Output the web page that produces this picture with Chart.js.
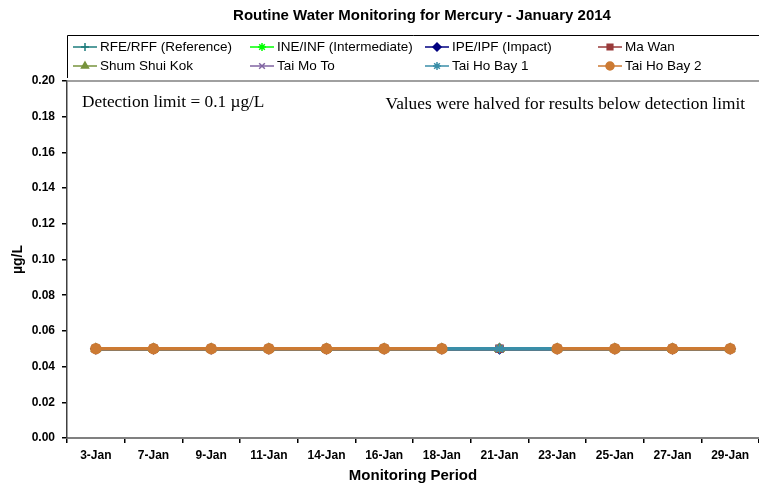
<!DOCTYPE html>
<html>
<head>
<meta charset="utf-8">
<script src="https://cdn.jsdelivr.net/npm/chart.js@4/dist/chart.umd.min.js"></script>
<style>
  html, body { margin: 0; padding: 0; background: #fff; }
  #wrap { width: 759px; height: 487px; }
</style>
</head>
<body>
<div id="wrap"><canvas id="chart"></canvas></div>
<script>
const dates = ["3-Jan", "7-Jan", "9-Jan", "11-Jan", "14-Jan", "16-Jan", "18-Jan", "21-Jan", "23-Jan", "25-Jan", "27-Jan", "29-Jan"];
const yTicks = [0, 0.02, 0.04, 0.06, 0.08, 0.10, 0.12, 0.14, 0.16, 0.18, 0.20];

// all results below detection limit, halved to 0.05
const rfeRff = [0.05, 0.05, 0.05, 0.05, 0.05, 0.05, 0.05, 0.05, 0.05, 0.05, 0.05, 0.05];
const ineInf = [0.05, 0.05, 0.05, 0.05, 0.05, 0.05, 0.05, 0.05, 0.05, 0.05, 0.05, 0.05];
const ipeIpf = [0.05, 0.05, 0.05, 0.05, 0.05, 0.05, 0.05, 0.05, 0.05, 0.05, 0.05, 0.05];
const maWan = [0.05, 0.05, 0.05, 0.05, 0.05, 0.05, 0.05, 0.05, 0.05, 0.05, 0.05, 0.05];
const shumShuiKok = [0.05, 0.05, 0.05, 0.05, 0.05, 0.05, 0.05, 0.05, 0.05, 0.05, 0.05, 0.05];
const taiMoTo = [0.05, 0.05, 0.05, 0.05, 0.05, 0.05, 0.05, 0.05, 0.05, 0.05, 0.05, 0.05];
const taiHoBay1 = [0.05, 0.05, 0.05, 0.05, 0.05, 0.05, 0.05, 0.05, 0.05, 0.05, 0.05, 0.05];
const taiHoBay2 = [0.05, 0.05, 0.05, 0.05, 0.05, 0.05, 0.05, null, 0.05, 0.05, 0.05, 0.05];

const series = [
  { label: "RFE/RFF (Reference)", data: rfeRff, color: "#1d7c7c", style: "cross" },
  { label: "INE/INF (Intermediate)", data: ineInf, color: "#00ff00", style: "star" },
  { label: "IPE/IPF (Impact)", data: ipeIpf, color: "#000080", style: "rectRot" },
  { label: "Ma Wan", data: maWan, color: "#993a3a", style: "rect" },
  { label: "Shum Shui Kok", data: shumShuiKok, color: "#77933c", style: "triangle" },
  { label: "Tai Mo To", data: taiMoTo, color: "#8064a2", style: "crossRot" },
  { label: "Tai Ho Bay 1", data: taiHoBay1, color: "#3a8ea8", style: "star" },
  { label: "Tai Ho Bay 2", data: taiHoBay2, color: "#cc7a33", style: "circle" }
];

const SANS = "'Liberation Sans', Arial, sans-serif";
const SERIF = "'Liberation Serif', 'Times New Roman', serif";

// title, legend box, notes and top border drawn by hand
const decorations = {
  id: "decorations",
  afterDraw(chart) {
    const ctx = chart.ctx;
    const area = chart.chartArea;
    ctx.save();

    ctx.fillStyle = "#000";
    ctx.font = "bold 15px " + SANS;
    ctx.textAlign = "center";
    ctx.textBaseline = "middle";
    ctx.fillText("Routine Water Monitoring for Mercury - January 2014", 422, 16);

    // legend frame
    ctx.strokeStyle = "#000";
    ctx.lineWidth = 1;
    ctx.beginPath();
    ctx.moveTo(67.5, 78);
    ctx.lineTo(67.5, 35.5);
    ctx.lineTo(759, 35.5);
    ctx.stroke();

    const cols = [73, 250, 425, 598];
    const rows = [47, 66];
    ctx.font = "13.5px " + SANS;
    ctx.textAlign = "left";
    chart.data.datasets.forEach((ds, i) => {
      const x = cols[i % 4];
      const y = rows[Math.floor(i / 4)];
      ctx.strokeStyle = ds.borderColor;
      ctx.fillStyle = ds.borderColor;
      ctx.lineWidth = 1.5;
      ctx.beginPath();
      ctx.moveTo(x, y);
      ctx.lineTo(x + 24, y);
      ctx.stroke();
      Chart.helpers.drawPoint(ctx, {
        pointStyle: ds.pointStyle, radius: 4, borderWidth: 1.2, rotation: 0
      }, x + 12, y);
      ctx.fillStyle = "#000";
      ctx.fillText(ds.label, x + 27, y + 0.5);
    });

    // top border of plot area
    ctx.strokeStyle = "#808080";
    ctx.lineWidth = 1.5;
    ctx.beginPath();
    ctx.moveTo(area.left, area.top);
    ctx.lineTo(area.right, area.top);
    ctx.stroke();

    ctx.fillStyle = "#000";
    ctx.font = "17.3px " + SERIF;
    ctx.textAlign = "left";
    ctx.fillText("Detection limit = 0.1 \u00b5g/L", 82, 102);
    ctx.textAlign = "right";
    ctx.fillText("Values were halved for results below detection limit", 745, 104);
    ctx.restore();
  }
};

new Chart(document.getElementById("chart"), {
  type: "line",
  data: {
    labels: dates,
    datasets: series.map((s, i) => ({
      label: s.label,
      data: s.data,
      borderColor: s.color,
      backgroundColor: s.color,
      pointBackgroundColor: s.color,
      pointBorderColor: s.color,
      pointStyle: s.style,
      pointRadius: 5,
      pointBorderWidth: 1.5,
      borderWidth: 3.5,
      tension: 0,
      order: series.length - i
    }))
  },
  options: {
    responsive: true,
    maintainAspectRatio: false,
    animation: false,
    layout: { autoPadding: false, padding: { top: 81, right: -3, left: 0, bottom: 0 } },
    plugins: {
      legend: { display: false },
      tooltip: { enabled: false }
    },
    scales: {
      x: {
        offset: true,
        afterFit(scale) {
          scale.height = 49;
          scale.paddingLeft = 0;
          scale.paddingRight = 0;
        },
        grid: {
          offset: true,
          drawOnChartArea: false,
          color: "#000",
          tickLength: 5,
          lineWidth: 1.5
        },
        border: { color: "#808080", width: 2 },
        ticks: {
          color: "#000",
          padding: 5,
          maxRotation: 0,
          autoSkip: false,
          font: { family: SANS, size: 12, weight: "bold" }
        },
        title: {
          display: true,
          text: "Monitoring Period",
          color: "#000",
          padding: { top: 0, bottom: 2 },
          font: { family: SANS, size: 15, weight: "bold" }
        }
      },
      y: {
        min: 0,
        max: 0.2,
        afterFit(scale) {
          scale.width = 67;
          scale.paddingTop = 0;
          scale.paddingBottom = 0;
        },
        afterBuildTicks(scale) { scale.ticks = yTicks.map(v => ({ value: v })); },
        grid: {
          drawOnChartArea: false,
          color: "#000",
          tickLength: 5,
          lineWidth: 1.5
        },
        border: { color: "#404040", width: 1.5 },
        ticks: {
          color: "#000",
          padding: 7,
          callback: v => v.toFixed(2),
          font: { family: SANS, size: 12, weight: "bold" }
        },
        title: {
          display: true,
          text: "\u00b5g/L",
          color: "#000",
          padding: { top: 10, bottom: 0 },
          font: { family: SANS, size: 14, weight: "bold" }
        }
      }
    }
  },
  plugins: [decorations]
});
</script>
</body>
</html>
